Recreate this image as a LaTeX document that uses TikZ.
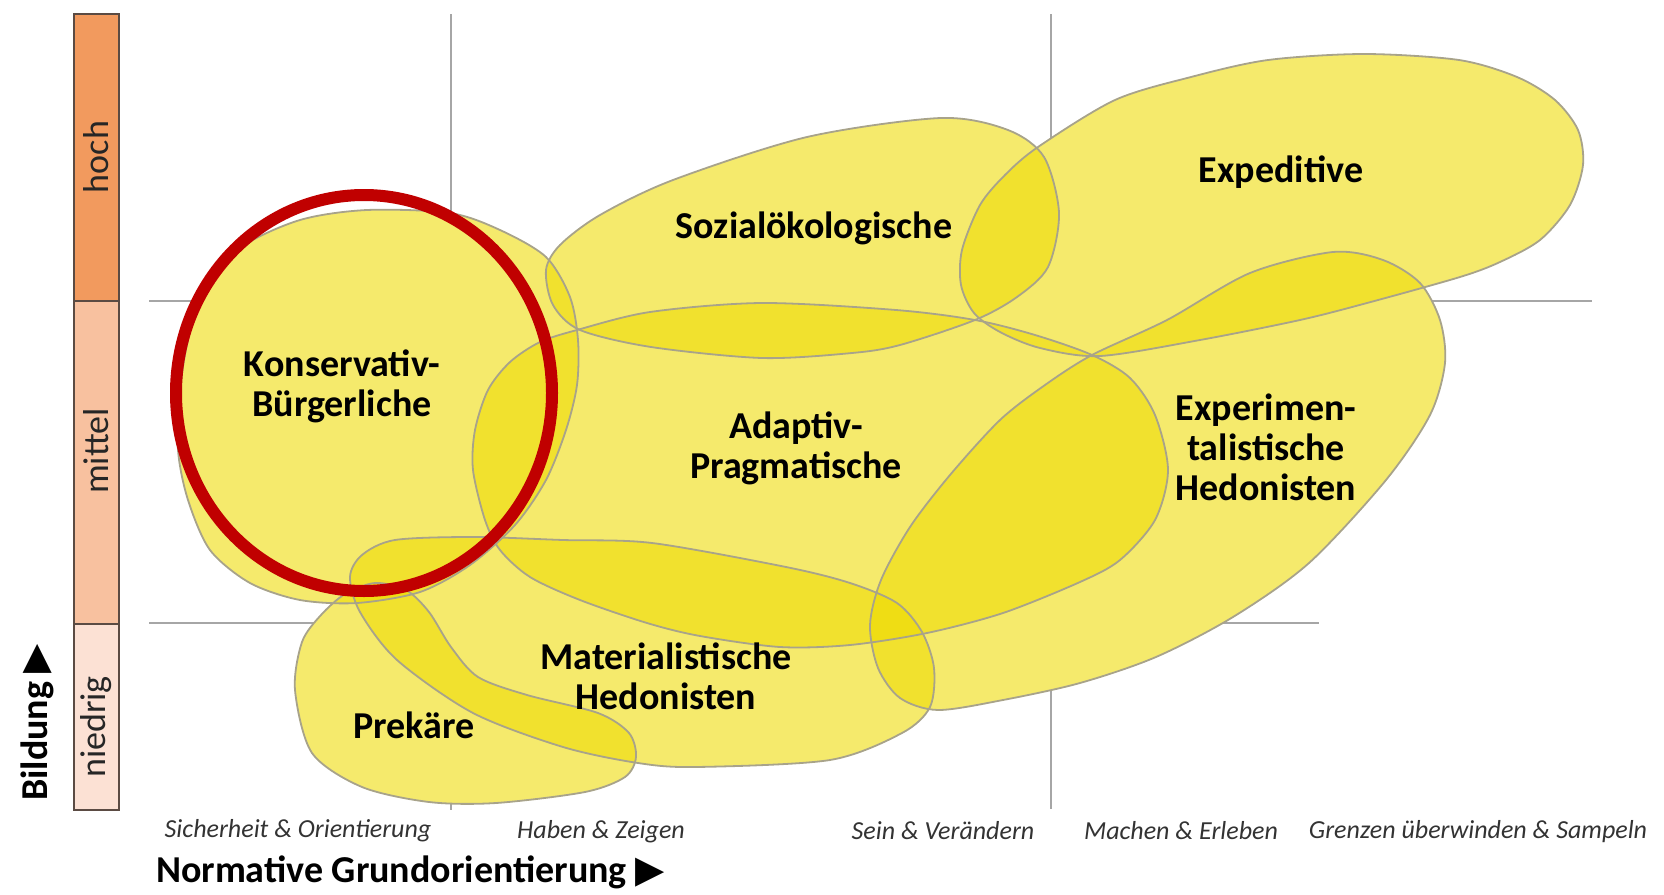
\documentclass[tikz,border=0pt]{standalone}
\usepackage{fontspec}
\setmainfont{Carlito}
\newfontfamily\symfont{DejaVu Sans}
\definecolor{hochcol}{HTML}{F29A5E}
\definecolor{mittelcol}{HTML}{F8C19F}
\definecolor{niedrigcol}{HTML}{FCE1D4}
\definecolor{bardark}{HTML}{5B4B43}
\definecolor{blobyellow}{HTML}{EFDB02}
\definecolor{blobedge}{HTML}{A8A38A}
\definecolor{gridgray}{HTML}{A6A6A6}
\definecolor{ringred}{HTML}{C00000}
\begin{document}
\begin{tikzpicture}[x=0.5pt, y=-0.5pt,
    blobfill/.style={fill=blobyellow, fill opacity=0.58},
    blobline/.style={draw=blobedge, line width=0.9pt},
    gridline/.style={draw=gridgray, line width=0.9pt},
    barbox/.style={draw=bardark, line width=1.2pt},
    milieu/.style={font=\fontsize{19}{20}\selectfont\bfseries, align=center, text=black},
    orient/.style={font=\fontsize{13}{15}\selectfont\itshape, text=black!80},
    level/.style={rotate=90, font=\fontsize{18}{20}\selectfont, text=black!85},
    axistitle/.style={font=\fontsize{19}{21}\selectfont\bfseries, text=black}]

  \useasboundingbox (0, 0) rectangle (1664, 894);

  % grid
  \draw[gridline] (451, 14) -- (451, 810);
  \draw[gridline] (1051, 14) -- (1051, 809);
  \draw[gridline] (149, 301) -- (1592, 301);
  \draw[gridline] (149, 623) -- (1319, 623);

  % milieus
  \path[save path=\pK] plot[smooth cycle] coordinates {(203, 293) (240, 248) (300, 220) (367, 210) (450, 213) (500, 230) (546, 257) (570, 297) (578, 340) (577, 385) (566, 430) (546, 480) (515, 525) (470, 565) (420, 592) (357, 603) (300, 600) (250, 583) (210, 550) (188, 500) (178, 450) (180, 390) (188, 340)};
  \path[save path=\pS] plot[smooth cycle] coordinates {(546, 270) (560, 245) (600, 215) (673, 180) (807, 137) (941, 118) (1008, 130) (1044, 157) (1059, 213) (1048, 267) (1017, 297) (975, 320) (900, 345) (852, 353) (762, 358) (651, 347) (580, 330) (553, 305)};
  \path[save path=\pE] plot[smooth cycle] coordinates {(1038, 147) (1115, 100) (1191, 77) (1268, 60) (1364, 54) (1459, 60) (1517, 77) (1555, 100) (1578, 130) (1583, 165) (1570, 205) (1540, 240) (1500, 262) (1460, 277) (1367, 303) (1300, 320) (1200, 340) (1100, 356) (1040, 348) (1000, 332) (974, 313) (961, 285) (962, 250) (980, 205) (1005, 175)};
  \path[save path=\pA] plot[smooth cycle] coordinates {(577, 330) (650, 312) (762, 303) (896, 310) (975, 320) (1035, 335) (1092, 355) (1130, 378) (1155, 415) (1168, 470) (1155, 520) (1120, 560) (1080, 582) (1003, 613) (927, 633) (850, 645) (780, 647) (700, 636) (647, 623) (580, 600) (530, 577) (500, 550) (485, 520) (473, 470) (475, 430) (488, 390) (510, 362) (540, 342)};
  \path[save path=\pX] plot[smooth cycle] coordinates {(1092, 355) (1167, 320) (1250, 273) (1333, 252) (1383, 260) (1420, 283) (1440, 320) (1445, 363) (1430, 415) (1386, 480) (1309, 563) (1233, 617) (1156, 657) (1080, 683) (1003, 700) (938, 710) (900, 698) (878, 668) (870, 625) (881, 580) (910, 527) (950, 475) (1000, 420) (1045, 385)};
  \path[save path=\pM] plot[smooth cycle] coordinates {(350, 577) (362, 555) (395, 540) (473, 537) (563, 540) (652, 543) (786, 567) (850, 583) (897, 603) (922, 632) (934, 668) (930, 707) (902, 733) (830, 760) (696, 767) (638, 763) (563, 747) (473, 713) (397, 660) (360, 612)};
  \path[save path=\pP] plot[smooth cycle] coordinates {(375, 583) (406, 590) (429, 612) (451, 647) (478, 677) (527, 695) (598, 713) (629, 733) (636, 757) (625, 777) (585, 792) (496, 803) (429, 802) (362, 787) (312, 753) (295, 690) (302, 642) (321, 615) (345, 594)};

  \foreach \p in {\pK, \pS, \pE, \pA, \pX, \pM, \pP}
    \fill[white, use path=\p];
  \foreach \p in {\pK, \pS, \pE, \pA, \pX, \pM, \pP}
    \fill[blobfill, use path=\p];
  \foreach \p in {\pK, \pS, \pE, \pA, \pX, \pM, \pP}
    \draw[blobline, use path=\p];

  \draw[ringred, line width=6pt] (364, 393) ellipse [x radius=188, y radius=198];

  \node[milieu] (konserv) at (342, 386) {Konservativ-\\Bürgerliche};
  \node[milieu] (sozial) at (814, 228) {Sozialökologische};
  \node[milieu] (exped) at (1281, 172) {Expeditive};
  \node[milieu] (adapt) at (796, 448) {Adaptiv-\\Pragmatische};
  \node[milieu] (experi) at (1266, 447) {Experimen-\\talistische\\Hedonisten};
  \node[milieu] (materi) at (666, 676) {Materialistische\\Hedonisten};
  \node[milieu] (prek) at (414, 725) {Prekäre};

  % Bildung
  \draw[barbox, fill=hochcol] (74, 14) rectangle (119, 301);
  \draw[barbox, fill=mittelcol] (74, 301) rectangle (119, 624);
  \draw[barbox, fill=niedrigcol] (74, 624) rectangle (119, 810);
  \node[level] (hoch) at (96, 157) {hoch};
  \node[level] (mittel) at (96, 451) {mittel};
  \node[level] (niedrig) at (96, 727) {niedrig};
  \node[axistitle, rotate=90, anchor=base west] (bildung) at (47, 808) {Bildung {\symfont ▶}};

  % Grundorientierung
  \node[orient] (sicher) at (298, 831) {Sicherheit \& Orientierung};
  \node[orient] (haben) at (601, 832) {Haben \& Zeigen};
  \node[orient] (sein) at (943, 831) {Sein \& Verändern};
  \node[orient] (machen) at (1181, 831) {Machen \& Erleben};
  \node[orient] (grenzen) at (1478, 832) {Grenzen überwinden \& Sampeln};
  \node[axistitle, anchor=base west] (normativ) at (149, 882) {Normative Grundorientierung {\symfont ▶}};

\end{tikzpicture}
\end{document}
